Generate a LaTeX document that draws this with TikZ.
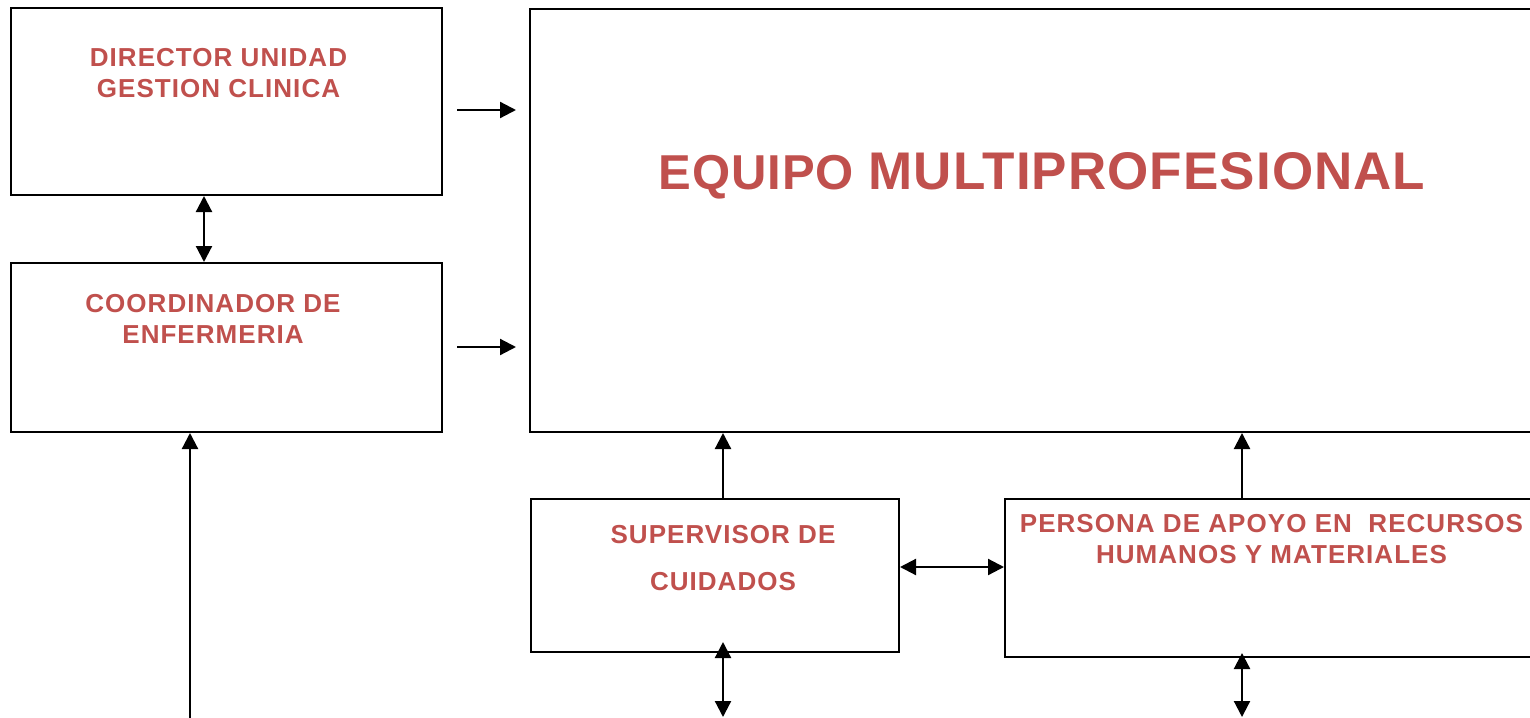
\documentclass[tikz,border=0pt]{standalone}
\usepackage{fontspec}
\setmainfont{Liberation Sans}
\newfontfamily\rotulo[LetterSpace=4]{Liberation Sans}
\newfontfamily\rotulogrande[LetterSpace=2]{Liberation Sans}
\usetikzlibrary{arrows.meta}
\definecolor{rojizo}{RGB}{192,80,77}
\begin{document}
\begin{tikzpicture}[x=1pt,y=-1pt]
		\tikzstyle{caja}=[draw, line width=2pt, inner sep=0pt]
		\tikzstyle{texto}=[text=rojizo, font=\rotulo\bfseries\fontsize{26}{31}\selectfont, align=center, inner sep=0pt]
		\tikzstyle{flecha}=[line width=2.2pt, -{Triangle[length=16pt,width=16pt]}]
		\tikzstyle{doble}=[line width=2.2pt, {Triangle[length=16pt,width=16pt]}-{Triangle[length=16pt,width=16pt]}]
		\useasboundingbox (0,0) rectangle (1530,717);
		% cajas
		\node[caja, minimum width=431pt, minimum height=187pt] (director) at (226.5,101.5) {};
		\node[caja, minimum width=431pt, minimum height=169pt] (coordinador) at (226.5,347.5) {};
		\node[caja, minimum width=1010pt, minimum height=423pt] (equipo) at (1035,220.5) {};
		\node[caja, minimum width=368pt, minimum height=153pt] (supervisor) at (715,575.5) {};
		\node[caja, minimum width=540pt, minimum height=158pt] (persona) at (1275,578) {};
		% textos
		\node[texto] (tdirector) at (218.5,73.5) {DIRECTOR UNIDAD\\GESTION CLINICA};
		\node[texto] (tcoordinador) at (213,319) {COORDINADOR DE\\ENFERMERIA};
		\node[texto] (tsupervisor) at (723,558) {SUPERVISOR DE\\[16pt]CUIDADOS};
		\node[texto] (tpersona) at (1271.5,539) {PERSONA DE APOYO EN\ \ RECURSOS\\HUMANOS Y MATERIALES};
		\node[texto, font=\rotulogrande\bfseries] (tequipo) at (1042,176) {{\fontsize{49}{55}\selectfont EQUIPO\ }{\fontsize{53}{60}\selectfont MULTIPROFESIONAL}};
		% puntos sueltos
		\coordinate (a1) at (457,110); \coordinate (b1) at (516,110);
		\coordinate (a2) at (457,347); \coordinate (b2) at (516,347);
		\coordinate (xd) at (204,0);
		\coordinate (abajo) at (190,720);
		\coordinate (xs) at (723,0);
		\coordinate (xp) at (1242,0);
		\coordinate (yh) at (0,567);
		\coordinate (s1) at (723,642); \coordinate (s2) at (723,717);
		\coordinate (p1) at (1242,653); \coordinate (p2) at (1242,717);
		% flechas
		\draw[flecha] (a1) -- (b1);
		\draw[flecha] (a2) -- (b2);
		\draw[doble] (director.south -| xd) -- (coordinador.north -| xd);
		\draw[flecha] (abajo) -- (coordinador.south -| abajo);
		\draw[flecha] (supervisor.north -| xs) -- (equipo.south -| xs);
		\draw[flecha] (persona.north -| xp) -- (equipo.south -| xp);
		\draw[doble] (supervisor.east |- yh) -- (persona.west |- yh);
		\draw[doble] (s1) -- (s2); % abajo supervisor
		\draw[doble] (p1) -- (p2); % abajo persona
	\end{tikzpicture}
\end{document}
